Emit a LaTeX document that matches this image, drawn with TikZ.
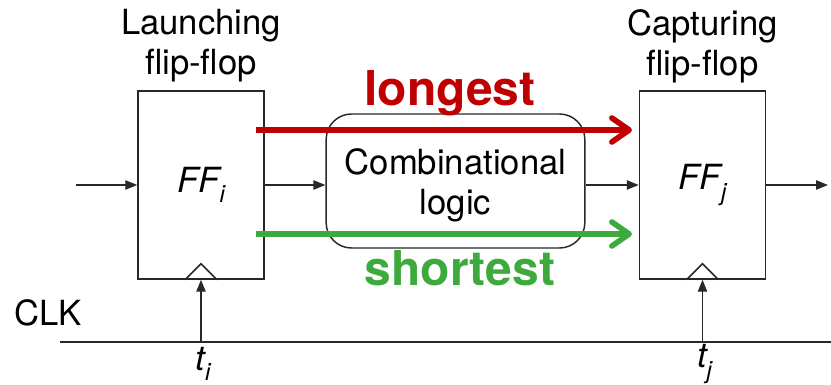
\documentclass[tikz,border=0pt]{standalone}
\usepackage{fontspec}
\setmainfont{TeX Gyre Heros}
\usetikzlibrary{arrows.meta,calc}

\definecolor{longred}{RGB}{192,0,0}
\definecolor{shortgreen}{RGB}{62,170,62}
\definecolor{wire}{RGB}{40,40,40}

\newcommand{\sub}[1]{\raisebox{-0.3em}{\fontsize{18}{18}\selectfont\itshape #1}}

\begin{document}
\begin{tikzpicture}[x=0.75pt, y=-0.75pt,
		font=\fontsize{26}{30}\selectfont,
		ffbox/.style={draw=wire, line width=1.1pt, minimum width=94.5pt, minimum height=141pt, inner sep=0pt},
		logicbox/.style={draw=wire, line width=1.1pt, rounded corners=19pt, minimum width=194pt, minimum height=100.5pt, inner sep=0pt},
		sig/.style={draw=wire, line width=1.1pt, -{Triangle[length=9pt, width=7pt]}},
		path/.style={line width=4.2pt, -{Straight Barb[length=13pt, width=18pt, line cap=round, round]}}]

		\useasboundingbox (0, 0) rectangle (831, 385);

		\node[ffbox] (ffi) at (201, 185) {};
		\node[ffbox] (ffj) at (702.5, 185) {};
		\node[logicbox] (comb) at (455.5, 181) {};

		\node at (ffi) {\itshape FF\sub{i}};
		\node at (ffj) {\itshape FF\sub{j}};
		\node[align=center] (combtext) at (455.5, 185) {Combinational\\logic};

		\node[align=center] (launch) at (201, 46) {Launching\\flip-flop};
		\node[align=center] (capture) at (702.5, 46) {Capturing\\flip-flop};

		\coordinate (in) at (76, 185);
		\coordinate (out) at (828, 185);

		\draw[sig] (in) -- (ffi.west);
		\draw[sig] (ffi.east) -- (ffi.east -| comb.west);
		\draw[sig] (ffj.west -| comb.east) -- (ffj.west);
		\draw[sig] (ffj.east) -- (out);

		\draw[wire, line width=1.1pt] ($(ffi.south)+(-16, 0)$) -- ++(16, -16) -- ++(16, 16);
		\draw[wire, line width=1.1pt] ($(ffj.south)+(-16, 0)$) -- ++(16, -16) -- ++(16, 16);

		\coordinate (clka) at (60, 342);
		\coordinate (clkb) at (831, 342);
		\draw[wire, line width=1.1pt] (clka) -- (clkb);

		\draw[sig] (ffi.south |- clka) -- (ffi.south);
		\draw[sig] (ffj.south |- clka) -- (ffj.south);

		\node (clk) at (48, 313) {CLK};
		\node (ti) at (203, 364) {\itshape t\sub{i}};
		\node (tj) at (704.5, 364) {\itshape t\sub{j}};

		\coordinate (longa) at (256, 130);
		\coordinate (longb) at (632, 130);
		\coordinate (shorta) at (256, 234);
		\coordinate (shortb) at (632, 234);

		\draw[path, longred] (longa) -- (longb);
		\draw[path, shortgreen] (shorta) -- (shortb);

		\node[longred, font=\fontsize{36}{36}\selectfont\bfseries] (longest) at (450, 93) {longest};
		\node[shortgreen, font=\fontsize{36}{36}\selectfont\bfseries] (shortest) at (460, 268) {shortest};

	\end{tikzpicture}
\end{document}
